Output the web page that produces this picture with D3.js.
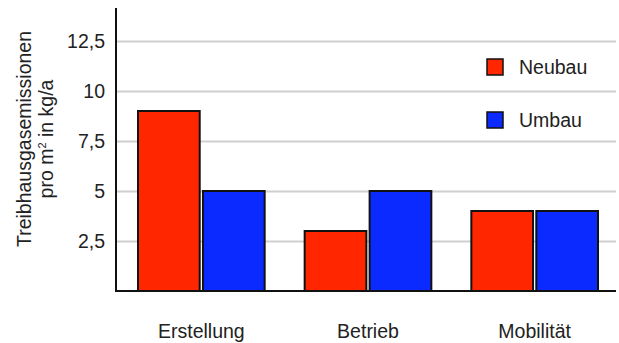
<!DOCTYPE html>
<html>
<head>
<meta charset="utf-8">
<script src="https://cdn.jsdelivr.net/npm/d3@7"></script>
<style>
  body { margin: 0; background: #fff; }
  text { font-family: "Liberation Sans", Arial, sans-serif; fill: #222; }
</style>
</head>
<body>
<div id="chart"></div>
<script>
// chart data
var categories = ["Erstellung", "Betrieb", "Mobilität"];
var seriesNames = ["Neubau", "Umbau"];
var neubauValues = [9, 3, 4];
var umbauValues = [5, 5, 4];
var tickValues = [2.5, 5, 7.5, 10, 12.5];
var tickLabels = ["2,5", "5", "7,5", "10", "12,5"];

function init() {
    var w = 619, h = 343;
    var colors = ["#ff2600", "#0a2aff"];
    var fontSize = "19.5px";

    var svg = d3.select("#chart").append("svg")
        .attr("width", w)
        .attr("height", h);

    var xScale = d3.scaleBand()
        .domain(categories)
        .range([118, 618])
        .paddingInner(0.24)
        .paddingOuter(0.12);

    var xInner = d3.scaleBand()
        .domain(seriesNames)
        .range([0, xScale.bandwidth()])
        .paddingInner(0.05);

    var yScale = d3.scaleLinear()
        .domain([0, 14.15])
        .range([291, 8]);

    // gridlines
    svg.append("g")
        .attr("transform", "translate(116,0)")
        .call(d3.axisLeft(yScale).tickValues(tickValues).tickSize(-500).tickFormat(""))
        .call(function(g) {
            g.select(".domain").remove();
            g.selectAll("line").attr("stroke", "#cfcfcf").attr("stroke-width", 2);
        });

    // tick labels
    svg.append("g")
        .attr("transform", "translate(116,0)")
        .call(d3.axisLeft(yScale).tickValues(tickValues).tickSize(0).tickPadding(11)
            .tickFormat(function(d, i) { return tickLabels[i]; }))
        .call(function(g) {
            g.select(".domain").remove();
            g.attr("font-size", null).attr("font-family", null);
            g.selectAll("text").style("font-size", fontSize).attr("fill", "#222");
        });

    // bars
    var rows = categories.map(function(c, i) {
        return { cat: c, vals: [neubauValues[i], umbauValues[i]] };
    });

    var groups = svg.selectAll(".grp")
        .data(rows)
        .enter().append("g")
        .attr("class", "grp")
        .attr("transform", function(d) { return "translate(" + xScale(d.cat) + ",0)"; });

    groups.selectAll("rect")
        .data(function(d) { return d.vals.map(function(v, j) { return { s: seriesNames[j], v: v, j: j }; }); })
        .enter().append("rect")
        .attr("x", function(d) { return xInner(d.s); })
        .attr("y", function(d) { return yScale(d.v); })
        .attr("width", xInner.bandwidth())
        .attr("height", function(d) { return yScale(0) - yScale(d.v); })
        .attr("fill", function(d) { return colors[d.j]; })
        .attr("stroke", "#111")
        .attr("stroke-width", 2);

    // axes lines
    svg.append("line")
        .attr("x1", 116).attr("x2", 116)
        .attr("y1", yScale.range()[1]).attr("y2", yScale(0) + 1)
        .attr("stroke", "#111").attr("stroke-width", 2);
    svg.append("line")
        .attr("x1", 115).attr("x2", 616)
        .attr("y1", yScale(0)).attr("y2", yScale(0))
        .attr("stroke", "#111").attr("stroke-width", 2);

    // category labels
    svg.append("g")
        .attr("transform", "translate(0," + yScale(0) + ")")
        .call(d3.axisBottom(xScale).tickSize(0).tickPadding(33))
        .call(function(g) {
            g.select(".domain").remove();
            g.attr("font-size", null).attr("font-family", null);
            g.selectAll("text").style("font-size", fontSize).attr("fill", "#222");
        });

    // y axis title
    var title = svg.append("text")
        .attr("transform", "translate(31,139) rotate(-90)")
        .attr("text-anchor", "middle")
        .style("font-size", fontSize);
    title.append("tspan").attr("x", 0).attr("dy", 0).text("Treibhausgasemissionen");
    var l2 = title.append("tspan").attr("x", 0).attr("dy", 22);
    l2.append("tspan").text("pro m");
    l2.append("tspan").style("font-size", "11px").attr("dy", -7).text("2");
    l2.append("tspan").attr("dy", 7).text(" in kg/a");

    // legend
    var legend = svg.selectAll(".leg")
        .data(seriesNames)
        .enter().append("g")
        .attr("class", "leg")
        .attr("transform", function(d, i) { return "translate(487," + (59 + i * 53) + ")"; });
    legend.append("rect")
        .attr("width", 16).attr("height", 16)
        .attr("fill", function(d, i) { return colors[i]; })
        .attr("stroke", "#111").attr("stroke-width", 1.5);
    legend.append("text")
        .attr("x", 32).attr("y", 15)
        .style("font-size", fontSize)
        .text(function(d) { return d; });
}

window.onload = init;
</script>
</body>
</html>
